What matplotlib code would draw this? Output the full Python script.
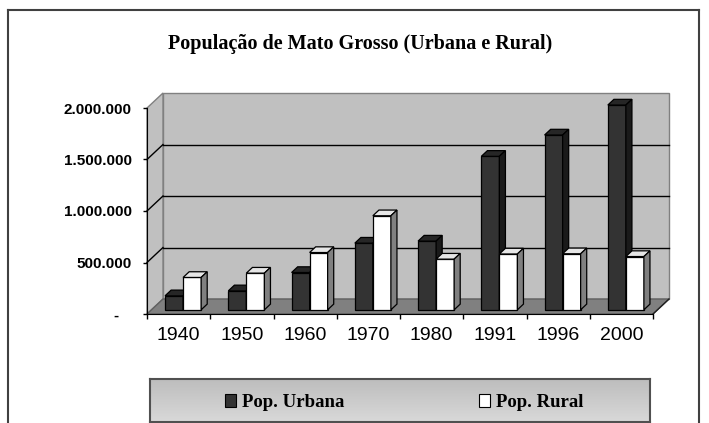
import numpy as np
import matplotlib
matplotlib.use("Agg")
import matplotlib.pyplot as plt
from matplotlib.patches import Polygon, Patch
from matplotlib.lines import Line2D
from matplotlib.ticker import FixedLocator, FuncFormatter

# ---- data ----
years = ["1940", "1950", "1960", "1970", "1980", "1991", "1996", "2000"]
urbana = [136000, 184000, 362000, 647000, 667000, 1490000, 1697000, 1988000]
rural = [314000, 356000, 556000, 913000, 492000, 542000, 544000, 517000]
yticks = [0, 500000, 1000000, 1500000, 2000000]
title = "População de Mato Grosso (Urbana e Rural)"
labels = ["Pop. Urbana", "Pop. Rural"]

W, H = 709, 423
fig = plt.figure(figsize=(W / 100, H / 100), dpi=100)

# outer frame
for xs, ys in [((8, 8), (10, 430)), ((8, 699), (10, 10)), ((699, 699), (10, 430))]:
    fig.add_artist(Line2D([x / W for x in xs], [1 - y / H for y in ys],
                          transform=fig.transFigure, color="#404040", lw=1.5))

# main axes = front plane
x0, x1, y0, y1 = 147, 653, 314, 108
ax = fig.add_axes([x0 / W, 1 - y0 / H, (x1 - x0) / W, (y0 - y1) / H])
n = len(years)
ymax = yticks[-1]
ax.set_xlim(0, n)
ax.set_ylim(0, ymax)

px_per_cat = (x1 - x0) / n
px_per_val = (y0 - y1) / ymax
DX = 16 / px_per_cat
DY = 15 / px_per_val

# walls
back = Polygon([(DX, DY), (n + DX, DY), (n + DX, ymax + DY), (DX, ymax + DY)],
               closed=True, facecolor="#c0c0c0", edgecolor="#808080", lw=1, zorder=0.5, clip_on=False)
left = Polygon([(0, 0), (DX, DY), (DX, ymax + DY), (0, ymax)],
               closed=True, facecolor="#c0c0c0", edgecolor="#808080", lw=1, zorder=0.5, clip_on=False)
floor = Polygon([(0, 0), (n, 0), (n + DX, DY), (DX, DY)],
                closed=True, facecolor="#808080", edgecolor="#606060", lw=1, zorder=0.7, clip_on=False)
for p in (back, left, floor):
    ax.add_patch(p)
for v in yticks[1:-1]:
    ax.plot([DX, n + DX], [v + DY, v + DY], color="black", lw=1, zorder=0.6, clip_on=False)
    ax.plot([0, DX], [v, v + DY], color="black", lw=1, zorder=0.6, clip_on=False)
ax.plot([n, n + DX], [0, DY], color="#202020", lw=1, zorder=0.8, clip_on=False)

# bars
f1, f2 = 0.28, 0.66
bw = 0.285
z = 2
def bar3d(xl, val, front, top, side):
    global z
    ox, oy = f1 * DX, f1 * DY
    ddx, ddy = (f2 - f1) * DX, (f2 - f1) * DY
    rects = ax.bar([xl + ox], [val], width=bw, bottom=oy, align="edge",
                   color=front, edgecolor="black", lw=0.9, zorder=z, clip_on=False)
    xa, xb = xl + ox, xl + ox + bw
    yb, yt = oy, oy + val
    ax.add_patch(Polygon([(xa, yt), (xb, yt), (xb + ddx, yt + ddy), (xa + ddx, yt + ddy)],
                         closed=True, facecolor=top, edgecolor="black", lw=0.9, zorder=z, clip_on=False))
    ax.add_patch(Polygon([(xb, yb), (xb + ddx, yb + ddy), (xb + ddx, yt + ddy), (xb, yt)],
                         closed=True, facecolor=side, edgecolor="black", lw=0.9, zorder=z, clip_on=False))
    z += 1

for i in range(n):
    bar3d(i + 0.5 - bw, urbana[i], "#333333", "#262626", "#1a1a1a")
    bar3d(i + 0.5, rural[i], "#ffffff", "#e6e6e6", "#808080")

# axes styling
for s in ("top", "right"):
    ax.spines[s].set_visible(False)
ax.spines["left"].set_color("black")
ax.spines["bottom"].set_color("black")
ax.spines["left"].set_zorder(1)
ax.spines["bottom"].set_zorder(1)
ax.set_facecolor("none")

ax.yaxis.set_major_locator(FixedLocator(yticks))
def fmt(v, pos):
    if v == 0:
        return "-   "
    return f"{int(v):,}".replace(",", ".")
ax.yaxis.set_major_formatter(FuncFormatter(fmt))
ax.tick_params(axis="y", direction="out", length=3, width=1, pad=8, labelsize=11)
for lab in ax.get_yticklabels():
    lab.set_fontfamily("Liberation Sans")
    lab.set_fontweight("bold")

ax.set_xticks(np.arange(n) + 0.5)
ax.set_xticklabels(years, fontfamily="Liberation Sans", fontsize=14)
ax.set_xticks(np.arange(n + 1), minor=True)
ax.tick_params(axis="x", which="major", length=0, pad=9)
ax.tick_params(axis="x", which="minor", direction="out", length=3.5, width=1)

fig.text(360 / W, 1 - 44 / H, title, ha="center", va="center",
         fontfamily="Liberation Serif", fontweight="bold", fontsize=14.5)

# legend box
lx0, lx1, ly0, ly1 = 150, 650, 379, 422
lax = fig.add_axes([lx0 / W, 1 - ly1 / H, (lx1 - lx0) / W, (ly1 - ly0) / H])
grad = np.linspace(0.74, 0.85, 64).reshape(-1, 1)
lax.imshow(np.dstack([grad, grad, grad]), aspect="auto", extent=(0, 1, 0, 1), origin="upper")
lax.set_xticks([]); lax.set_yticks([])
for s in lax.spines.values():
    s.set_color("#505050"); s.set_linewidth(1.5)
handles = [Patch(facecolor="#333333", edgecolor="black", lw=0.8),
           Patch(facecolor="#ffffff", edgecolor="black", lw=0.8)]
lax.legend(handles, labels, loc="center", bbox_to_anchor=(0.508, 0.45), ncol=2, frameon=False,
           columnspacing=7.2, handletextpad=0.3, handlelength=0.6, handleheight=0.7,
           prop={"family": "Liberation Serif", "weight": "bold", "size": 13.5})

fig.savefig("out.png", dpi=100)
